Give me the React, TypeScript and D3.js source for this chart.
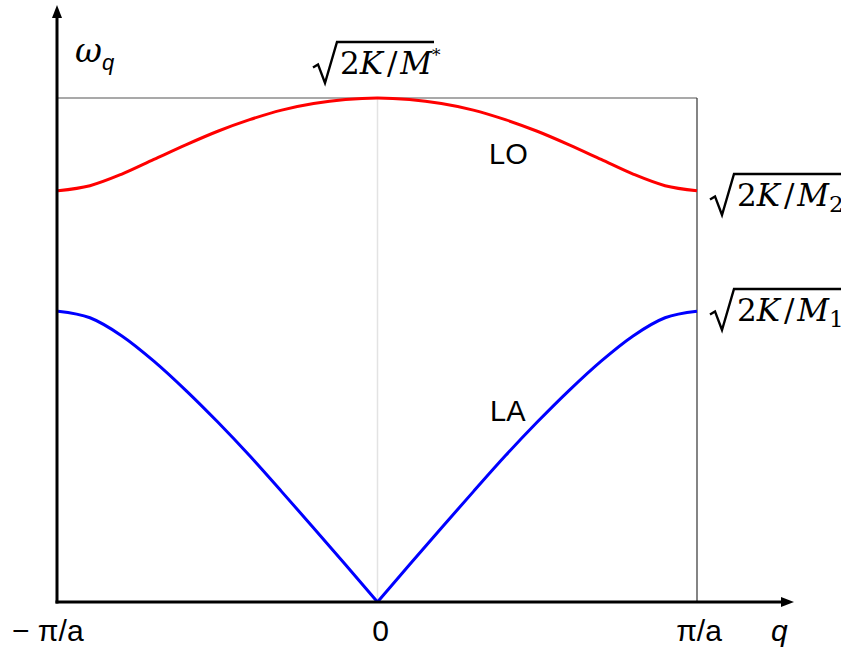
import React from "react";
import * as d3 from "d3";

// Wave vector q in units of pi/a, from -pi/a to +pi/a
const qValues = [
  -1, -0.9, -0.8, -0.7, -0.6, -0.5, -0.4, -0.3, -0.2, -0.1, 0,
  0.1, 0.2, 0.3, 0.4, 0.5, 0.6, 0.7, 0.8, 0.9, 1,
];
// Optical branch, frequency in units of sqrt(2K/M*)
const loValues = [
  0.816, 0.826, 0.849, 0.878, 0.907, 0.934, 0.957, 0.976, 0.989, 0.997, 1,
  0.997, 0.989, 0.976, 0.957, 0.934, 0.907, 0.878, 0.849, 0.826, 0.816,
];
// Acoustic branch, same units
const laValues = [
  0.577, 0.564, 0.528, 0.478, 0.42, 0.357, 0.29, 0.219, 0.147, 0.074, 0,
  0.074, 0.147, 0.219, 0.29, 0.357, 0.42, 0.478, 0.528, 0.564, 0.577,
];
const xTickLabels = ["\u2212 \u03c0/a", "0", "\u03c0/a"];
const xTickValues = [-1, 0, 1];

const W = 841;
const H = 653;

const x = d3.scaleLinear().domain([-1, 1]).range([58, 697]);
const y = d3.scaleLinear().domain([0, 1]).range([602, 98]);

type Pt = { q: number; w: number };
const toPts = (vals: number[]): Pt[] => qValues.map((q, i) => ({ q, w: vals[i] }));

const line = d3
  .line<Pt>()
  .x((d) => x(d.q))
  .y((d) => y(d.w))
  .curve(d3.curveMonotoneX);

const loPts = toPts(loValues);
const laPts = toPts(laValues);
const laLeft = laPts.filter((d) => d.q <= 0);
const laRight = laPts.filter((d) => d.q >= 0);

const mathFont = "'DejaVu Serif', 'Liberation Serif', serif";
const sansFont = "'Liberation Sans', Arial, sans-serif";

// Square-root sign with vinculum over the expression
function Radical({ x0, top, bottom, x1 }: { x0: number; top: number; bottom: number; x1: number }) {
  const mid = bottom - (bottom - top) * 0.38;
  const d = `M${x0},${mid} L${x0 + 5},${mid - 3} L${x0 + 12},${bottom} L${x0 + 24},${top} L${x1},${top}`;
  return <path d={d} fill="none" stroke="#000" strokeWidth={2.4} strokeLinejoin="miter" />;
}

function SqrtLabel({
  x0,
  baseline,
  sub,
  sup,
  endX,
}: {
  x0: number;
  baseline: number;
  sub?: string;
  sup?: string;
  endX: number;
}) {
  const top = baseline - 32;
  const bottom = baseline + 9;
  const textX = x0 + 27;
  return (
    <g>
      <Radical x0={x0} top={top} bottom={bottom} x1={endX} />
      <text x={textX} y={baseline} fontFamily={mathFont} fontSize={31} fill="#000">
        <tspan>2</tspan>
        <tspan fontStyle="italic">K</tspan>
        <tspan dx={4}>/</tspan>
        <tspan fontStyle="italic" dx={3}>M</tspan>
        {sup ? (
          <tspan fontSize={17} dy={-13}>
            {sup}
          </tspan>
        ) : null}
        {sub ? (
          <tspan fontSize={23} dy={6}>
            {sub}
          </tspan>
        ) : null}
      </text>
    </g>
  );
}

export default function App() {
  const axisX = x(-1) - 1;
  const axisY = y(0);
  return (
    <svg
      width={W}
      height={H}
      viewBox={`0 0 ${W} ${H}`}
      style={{ position: "absolute", left: 0, top: 0, background: "#fff" }}
    >
      <rect width={W} height={H} fill="#fff" />

      {/* zone centre guide */}
      <line x1={x(0)} x2={x(0)} y1={y(1)} y2={axisY} stroke="#e3e3e3" strokeWidth={1.5} />

      {/* frame at the top frequency and zone edge */}
      <line x1={axisX} x2={x(1)} y1={y(1)} y2={y(1)} stroke="#555" strokeWidth={1.2} />
      <line x1={x(1)} x2={x(1)} y1={y(1)} y2={axisY} stroke="#333" strokeWidth={1.2} />

      {/* dispersion branches */}
      <path d={line(loPts) || ""} fill="none" stroke="#ff0000" strokeWidth={3} />
      <path d={line(laLeft) || ""} fill="none" stroke="#0000ff" strokeWidth={3} />
      <path d={line(laRight) || ""} fill="none" stroke="#0000ff" strokeWidth={3} />

      {/* axes with arrows */}
      <line x1={axisX} x2={axisX} y1={axisY + 1.5} y2={16} stroke="#000" strokeWidth={3} />
      <path d={`M${axisX},5 L${axisX - 5},18 L${axisX + 5},18 Z`} fill="#000" />
      <line x1={axisX - 1.5} x2={782} y1={axisY} y2={axisY} stroke="#000" strokeWidth={3} />
      <path d={`M794,${axisY} L781,${axisY - 5} L781,${axisY + 5} Z`} fill="#000" />

      {/* tick labels */}
      {xTickValues.map((v, i) => (
        <text
          key={i}
          x={i === 0 ? 12 : x(v) + (i === 1 ? 3 : 2)}
          y={641}
          textAnchor={i === 0 ? "start" : "middle"}
          fontFamily={sansFont}
          fontSize={30}
          fill="#000"
        >
          {xTickLabels[i]}
        </text>
      ))}
      <text x={771} y={641} fontFamily={sansFont} fontStyle="italic" fontSize={30} fill="#000">
        q
      </text>

      {/* axis title */}
      <text x={75} y={62} fontFamily={mathFont} fontStyle="italic" fontSize={33} fill="#000">
        ω
        <tspan fontFamily={sansFont} fontSize={22} dy={8}>
          q
        </tspan>
      </text>

      {/* branch names */}
      <text x={489} y={164} fontFamily={sansFont} fontSize={29} fill="#000">
        LO
      </text>
      <text x={490} y={421} fontFamily={sansFont} fontSize={29} fill="#000">
        LA
      </text>

      {/* characteristic frequencies */}
      <SqrtLabel x0={313} baseline={74} sup="*" endX={434} />
      <SqrtLabel x0={710} baseline={206} sub="2" endX={841} />
      <SqrtLabel x0={710} baseline={321} sub="1" endX={841} />
    </svg>
  );
}
